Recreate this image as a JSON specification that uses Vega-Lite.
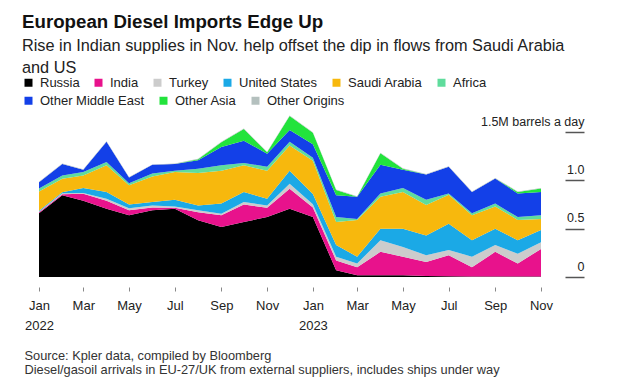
{
  "$schema": "https://vega.github.io/schema/vega-lite/v6.json",
  "autosize": {"type": "none"},
  "width": 502,
  "height": 145,
  "padding": {"left": 39, "top": 132, "right": 79, "bottom": 108},
  "background": "white",
  "config": {"view": {"stroke": null}, "font": "Liberation Sans"},
  "title": {
    "text": "European Diesel Imports Edge Up",
    "subtitle": ["Rise in Indian supplies in Nov. help offset the dip in flows from Saudi Arabia", "and US"],
    "anchor": "start",
    "frame": "group",
    "dx": -17,
    "offset": 0,
    "fontSize": 18.7,
    "fontWeight": "bold",
    "color": "#111",
    "subtitleFontSize": 16.3,
    "subtitleColor": "#222",
    "subtitleLineHeight": 22,
    "subtitlePadding": 6
  },
  "data": {
    "values": [
      {"date": "2022-01-01", "Russia": 0.66, "India": 0.01, "Turkey": 0.005, "United States": 0.01, "Saudi Arabia": 0.2, "Africa": 0.03, "Other Middle East": 0.065, "Other Asia": 0, "Other Origins": 0.005},
      {"date": "2022-02-01", "Russia": 0.845, "India": 0.01, "Turkey": 0.012, "United States": 0.01, "Saudi Arabia": 0.14, "Africa": 0.033, "Other Middle East": 0.12, "Other Asia": 0, "Other Origins": 0.005},
      {"date": "2022-03-01", "Russia": 0.79, "India": 0.07, "Turkey": 0.01, "United States": 0.05, "Saudi Arabia": 0.13, "Africa": 0.036, "Other Middle East": 0.024, "Other Asia": 0, "Other Origins": 0.005},
      {"date": "2022-04-01", "Russia": 0.707, "India": 0.083, "Turkey": 0.02, "United States": 0.07, "Saudi Arabia": 0.275, "Africa": 0.035, "Other Middle East": 0.21, "Other Asia": 0, "Other Origins": 0.005},
      {"date": "2022-05-01", "Russia": 0.64, "India": 0.05, "Turkey": 0.02, "United States": 0.04, "Saudi Arabia": 0.2, "Africa": 0.02, "Other Middle East": 0.06, "Other Asia": 0, "Other Origins": 0.005},
      {"date": "2022-06-01", "Russia": 0.69, "India": 0.03, "Turkey": 0.02, "United States": 0.036, "Saudi Arabia": 0.264, "Africa": 0.03, "Other Middle East": 0.09, "Other Asia": 0, "Other Origins": 0.005},
      {"date": "2022-07-01", "Russia": 0.707, "India": 0.01, "Turkey": 0.013, "United States": 0.07, "Saudi Arabia": 0.286, "Africa": 0.014, "Other Middle East": 0.07, "Other Asia": 0, "Other Origins": 0.005},
      {"date": "2022-08-01", "Russia": 0.586, "India": 0.084, "Turkey": 0.02, "United States": 0.05, "Saudi Arabia": 0.336, "Africa": 0.044, "Other Middle East": 0.087, "Other Asia": 0.01, "Other Origins": 0.005},
      {"date": "2022-09-01", "Russia": 0.517, "India": 0.121, "Turkey": 0.017, "United States": 0.105, "Saudi Arabia": 0.34, "Africa": 0.055, "Other Middle East": 0.19, "Other Asia": 0.05, "Other Origins": 0.005},
      {"date": "2022-10-01", "Russia": 0.57, "India": 0.18, "Turkey": 0.026, "United States": 0.104, "Saudi Arabia": 0.275, "Africa": 0.025, "Other Middle East": 0.23, "Other Asia": 0.12, "Other Origins": 0.005},
      {"date": "2022-11-01", "Russia": 0.62, "India": 0.097, "Turkey": 0.023, "United States": 0.07, "Saudi Arabia": 0.29, "Africa": 0.04, "Other Middle East": 0.136, "Other Asia": 0.014, "Other Origins": 0.005},
      {"date": "2022-12-01", "Russia": 0.707, "India": 0.207, "Turkey": 0.051, "United States": 0.135, "Saudi Arabia": 0.26, "Africa": 0.04, "Other Middle East": 0.12, "Other Asia": 0.145, "Other Origins": 0.005},
      {"date": "2023-01-01", "Russia": 0.62, "India": 0.1, "Turkey": 0.033, "United States": 0.105, "Saudi Arabia": 0.345, "Africa": 0.03, "Other Middle East": 0.14, "Other Asia": 0.12, "Other Origins": 0.005},
      {"date": "2023-02-01", "Russia": 0.07, "India": 0.1, "Turkey": 0.04, "United States": 0.12, "Saudi Arabia": 0.24, "Africa": 0.05, "Other Middle East": 0.225, "Other Asia": 0.055, "Other Origins": 0.005},
      {"date": "2023-03-01", "Russia": 0.017, "India": 0.083, "Turkey": 0.04, "United States": 0.07, "Saudi Arabia": 0.38, "Africa": 0.01, "Other Middle East": 0.23, "Other Asia": 0, "Other Origins": 0.005},
      {"date": "2023-04-01", "Russia": 0.017, "India": 0.243, "Turkey": 0.12, "United States": 0.12, "Saudi Arabia": 0.33, "Africa": 0.035, "Other Middle East": 0.295, "Other Asia": 0.12, "Other Origins": 0.005},
      {"date": "2023-05-01", "Russia": 0.017, "India": 0.193, "Turkey": 0.1, "United States": 0.19, "Saudi Arabia": 0.38, "Africa": 0.04, "Other Middle East": 0.19, "Other Asia": 0.01, "Other Origins": 0.005},
      {"date": "2023-06-01", "Russia": 0.01, "India": 0.145, "Turkey": 0.07, "United States": 0.205, "Saudi Arabia": 0.315, "Africa": 0.055, "Other Middle East": 0.26, "Other Asia": 0, "Other Origins": 0.005},
      {"date": "2023-07-01", "Russia": 0.007, "India": 0.218, "Turkey": 0.055, "United States": 0.27, "Saudi Arabia": 0.3, "Africa": 0.015, "Other Middle East": 0.275, "Other Asia": 0, "Other Origins": 0.005},
      {"date": "2023-08-01", "Russia": 0.005, "India": 0.095, "Turkey": 0.11, "United States": 0.17, "Saudi Arabia": 0.26, "Africa": 0.02, "Other Middle East": 0.22, "Other Asia": 0, "Other Origins": 0.005},
      {"date": "2023-09-01", "Russia": 0.005, "India": 0.255, "Turkey": 0.07, "United States": 0.17, "Saudi Arabia": 0.23, "Africa": 0.03, "Other Middle East": 0.26, "Other Asia": 0, "Other Origins": 0.005},
      {"date": "2023-10-01", "Russia": 0.005, "India": 0.135, "Turkey": 0.1, "United States": 0.14, "Saudi Arabia": 0.21, "Africa": 0.03, "Other Middle East": 0.245, "Other Asia": 0.015, "Other Origins": 0.005},
      {"date": "2023-11-01", "Russia": 0.005, "India": 0.285, "Turkey": 0.07, "United States": 0.125, "Saudi Arabia": 0.115, "Africa": 0.04, "Other Middle East": 0.24, "Other Asia": 0.035, "Other Origins": 0.005}
    ],
    "format": {"parse": {"date": "date:'%Y-%m-%d'"}}
  },
  "transform": [
    {"fold": ["Russia", "India", "Turkey", "United States", "Saudi Arabia", "Africa", "Other Middle East", "Other Asia", "Other Origins"], "as": ["series", "value"]},
    {"calculate": "indexof(['Russia','India','Turkey','United States','Saudi Arabia','Africa','Other Middle East','Other Asia','Other Origins'], datum.series)", "as": "ord"},
    {"stack": "value", "groupby": ["date"], "sort": [{"field": "ord", "order": "ascending"}], "as": ["y0", "y1"]}
  ],
  "encoding": {
    "x": {
      "field": "date",
      "type": "temporal",
      "scale": {"domain": [{"year": 2022, "month": 1, "date": 1}, {"year": 2023, "month": 11, "date": 1}]},
      "axis": {
        "values": [
          {"year": 2022, "month": 1, "date": 1}, {"year": 2022, "month": 3, "date": 1}, {"year": 2022, "month": 5, "date": 1},
          {"year": 2022, "month": 7, "date": 1}, {"year": 2022, "month": 9, "date": 1}, {"year": 2022, "month": 11, "date": 1},
          {"year": 2023, "month": 1, "date": 1}, {"year": 2023, "month": 3, "date": 1}, {"year": 2023, "month": 5, "date": 1},
          {"year": 2023, "month": 7, "date": 1}, {"year": 2023, "month": 9, "date": 1}, {"year": 2023, "month": 11, "date": 1}
        ],
        "labelExpr": "[timeFormat(datum.value, '%b'), timeFormat(datum.value, '%m') == '01' ? timeFormat(datum.value, '%Y') : '']",
        "domain": false,
        "grid": false,
        "offset": 10,
        "tickSize": 4,
        "tickColor": "#888",
        "tickWidth": 1,
        "labelPadding": 8,
        "labelFontSize": 13,
        "labelColor": "#222",
        "labelLineHeight": 20,
        "labelBaseline": "top",
        "labelFlush": false,
        "labelOverlap": false,
        "title": ["Source: Kpler data, compiled by Bloomberg", "Diesel/gasoil arrivals in EU-27/UK from external suppliers, includes ships under way"],
        "titleFontSize": 12.8,
        "titleFontWeight": "normal",
        "titleColor": "#333",
        "titleAnchor": "start",
        "titleAlign": "left",
        "titleBaseline": "top",
        "titleX": -15,
        "titleY": 62,
        "titleLineHeight": 14
      }
    },
    "y": {
      "field": "y1",
      "type": "quantitative",
      "scale": {"domain": [0, 1.5]},
      "axis": {
        "orient": "right",
        "values": [0, 0.5, 1, 1.5],
        "labelExpr": "datum.value == 1.5 ? '1.5M barrels a day' : datum.value == 0 ? '0' : format(datum.value, '.1f')",
        "domain": false,
        "grid": false,
        "offset": 24,
        "tickSize": 19,
        "tickColor": "#555",
        "tickWidth": 1.5,
        "labelAlign": "right",
        "labelBaseline": "bottom",
        "labelPadding": 0,
        "labelOffset": -4,
        "labelFontSize": 12.5,
        "labelColor": "#222",
        "labelFlush": false,
        "labelOverlap": false,
        "title": null
      }
    },
    "y2": {"field": "y0"}
  },
  "layer": [
    {
      "transform": [{"filter": "datum.ord < 6"}],
      "mark": {"type": "area", "interpolate": "linear"},
      "encoding": {
        "color": {
          "field": "series",
          "type": "nominal",
          "scale": {
            "domain": ["Russia", "India", "Turkey", "United States", "Saudi Arabia", "Africa"],
            "range": ["#000000", "#e8128c", "#cccccc", "#1ba9e6", "#f7b80d", "#5fdc9c"]
          },
          "legend": {
            "orient": "none",
            "legendX": -17,
            "legendY": -56,
            "direction": "horizontal",
            "columns": 6,
            "title": null,
            "symbolType": "square",
            "symbolSize": 64,
            "symbolStrokeWidth": 0,
            "labelFontSize": 13,
            "labelColor": "#222",
            "labelOffset": 5,
            "columnPadding": 12
          }
        }
      }
    },
    {
      "transform": [{"filter": "datum.ord >= 6"}],
      "mark": {"type": "area", "interpolate": "linear"},
      "encoding": {
        "color": {
          "field": "series",
          "type": "nominal",
          "scale": {
            "domain": ["Other Middle East", "Other Asia", "Other Origins"],
            "range": ["#1340e8", "#22e33c", "#b4c0be"]
          },
          "legend": {
            "orient": "none",
            "legendX": -17,
            "legendY": -38,
            "direction": "horizontal",
            "columns": 3,
            "title": null,
            "symbolType": "square",
            "symbolSize": 64,
            "symbolStrokeWidth": 0,
            "labelFontSize": 13,
            "labelColor": "#222",
            "labelOffset": 5,
            "columnPadding": 12
          }
        }
      }
    }
  ],
  "resolve": {"scale": {"color": "independent"}, "legend": {"color": "independent"}}
}
